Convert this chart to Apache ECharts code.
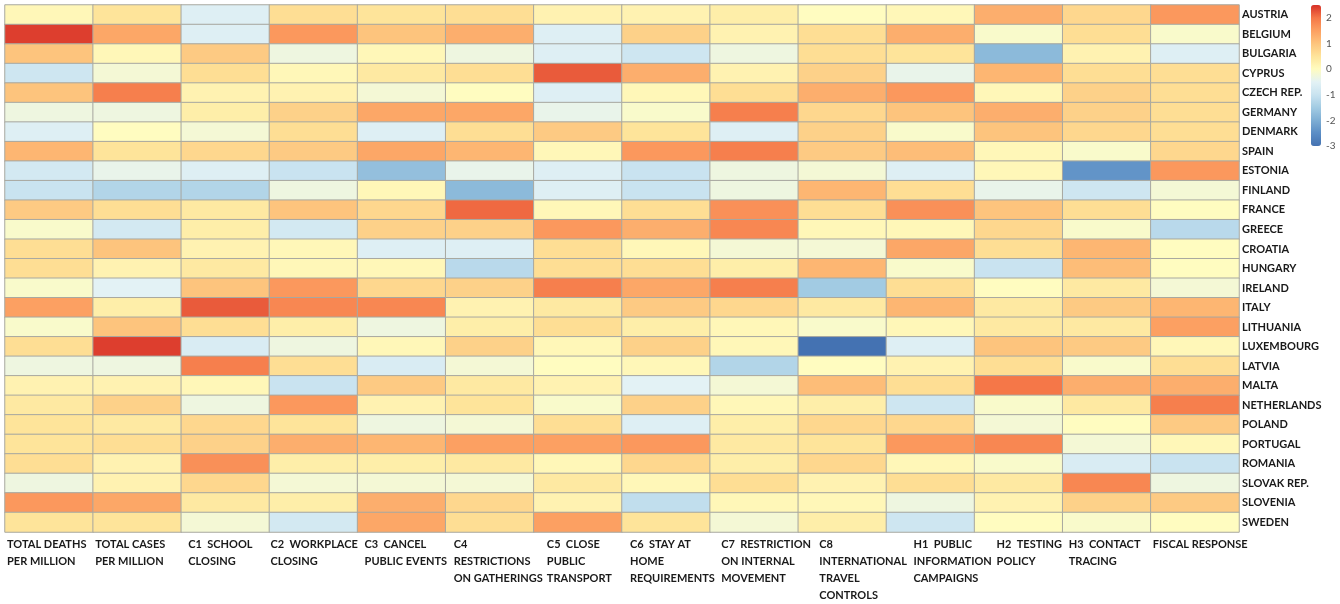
<!DOCTYPE html>
<html>
<head>
<meta charset="utf-8">
<script src="https://cdn.jsdelivr.net/npm/echarts@6/dist/echarts.min.js"></script>
<style>
html,body{margin:0;padding:0;background:#fff;}
#chart{width:1340px;height:604px;}
</style>
</head>
<body>
<div id="chart"></div>
<script>
const countries = ["AUSTRIA","BELGIUM","BULGARIA","CYPRUS","CZECH REP.","GERMANY","DENMARK","SPAIN","ESTONIA","FINLAND","FRANCE","GREECE","CROATIA","HUNGARY","IRELAND","ITALY","LITHUANIA","LUXEMBOURG","LATVIA","MALTA","NETHERLANDS","POLAND","PORTUGAL","ROMANIA","SLOVAK REP.","SLOVENIA","SWEDEN"];

const columnLabels = [
  "TOTAL DEATHS\nPER MILLION",
  "TOTAL CASES\nPER MILLION",
  "C1  SCHOOL\nCLOSING",
  "C2  WORKPLACE\nCLOSING",
  "C3  CANCEL\nPUBLIC EVENTS",
  "C4\nRESTRICTIONS\nON GATHERINGS",
  "C5  CLOSE\nPUBLIC\nTRANSPORT",
  "C6  STAY AT\nHOME\nREQUIREMENTS",
  "C7  RESTRICTION\nON INTERNAL\nMOVEMENT",
  "C8\nINTERNATIONAL\nTRAVEL\nCONTROLS",
  "H1  PUBLIC\nINFORMATION\nCAMPAIGNS",
  "H2  TESTING\nPOLICY",
  "H3  CONTACT\nTRACING",
  "FISCAL RESPONSE"
];

// one array per column, values in country order
const totalDeaths = [0.1,2.4,1.0,-0.9,1.0,-0.3,-0.6,1.2,-0.8,-1.0,0.9,-0.1,0.6,0.6,-0.1,1.5,-0.1,0.6,-0.3,0.2,0.4,0.5,0.5,0.6,-0.3,1.6,0.5];
const totalCases  = [0.5,1.4,0.1,-0.2,1.9,-0.3,0.0,0.5,-0.4,-1.3,0.6,-0.8,1.0,0.2,-0.5,0.3,1.0,2.4,-0.3,0.2,0.8,0.4,0.6,0.2,0.2,1.4,0.5];
const c1School    = [-0.6,-0.6,0.9,0.6,0.2,0.3,-0.2,0.7,-0.6,-1.3,0.4,0.3,0.2,0.4,1.0,2.2,0.6,-0.7,1.9,0.1,-0.3,0.7,0.8,1.7,0.7,0.4,-0.2];
const c2Workplace = [0.6,1.6,-0.3,0.1,0.2,0.8,0.6,0.9,-1.0,-0.3,1.0,-0.8,0.1,0.1,1.6,1.8,0.3,-0.3,0.6,-1.0,1.6,0.5,1.3,0.3,-0.2,0.3,-0.8];
const c3Events    = [0.5,1.0,0.1,0.4,-0.2,1.4,-0.6,1.4,-1.7,0.1,0.7,0.8,-0.6,0.1,0.7,1.8,-0.3,0.1,-0.7,0.9,0.2,-0.3,1.2,0.3,-0.2,1.3,1.4];
const c4Gatherings= [0.6,1.3,-0.3,0.6,0.0,1.4,0.6,1.2,-0.4,-1.8,2.1,0.8,-0.6,-1.2,0.8,0.2,0.3,0.8,-0.2,0.4,0.5,-0.2,1.5,0.4,-0.2,0.7,0.6];
const c5Transport = [0.2,-0.6,-0.6,2.2,-0.6,-0.4,0.9,0.1,-0.6,-0.6,0.1,1.6,0.6,0.6,1.9,0.4,0.6,0.1,0.0,0.2,-0.1,0.6,1.5,0.1,0.4,0.2,1.5];
const c6StayHome  = [0.2,0.8,-0.9,1.3,0.1,-0.1,0.5,1.6,-1.0,-1.0,0.6,1.3,0.1,0.6,1.4,0.9,0.3,0.8,0.1,-0.5,0.8,-0.6,1.6,0.7,0.1,-1.1,0.5];
const c7Internal  = [0.3,0.2,-0.3,0.2,0.6,1.9,-0.6,1.9,-0.3,-0.3,1.7,1.8,-0.2,0.3,1.9,0.7,0.1,0.1,-1.3,-0.2,0.1,0.3,0.4,0.3,0.6,0.1,-0.2];
const c8Travel    = [0.0,0.6,0.6,0.8,1.3,0.7,0.8,0.9,-0.2,1.2,0.6,0.1,-0.2,1.2,-1.5,0.4,-0.1,-3.0,0.0,1.1,0.3,0.7,0.5,0.7,0.2,0.1,0.3];
const h1Info      = [0.1,1.3,0.5,-0.4,1.6,1.0,-0.1,1.1,-0.6,0.6,1.7,0.1,1.4,-0.1,0.6,1.2,0.1,-0.6,0.2,0.6,-0.9,0.7,1.6,0.1,0.6,-0.3,-0.9];
const h2Testing   = [1.3,-0.1,-1.8,1.2,0.1,1.3,1.0,0.1,0.1,-0.4,1.0,0.7,0.6,-1.0,0.0,0.4,0.4,1.0,0.6,2.0,-0.1,-0.2,1.8,-0.1,0.4,0.2,0.0];
const h3Tracing   = [0.7,0.6,0.2,0.6,0.8,0.8,0.7,-0.1,-2.4,-0.9,0.6,-0.1,1.2,1.1,0.4,0.9,0.4,0.9,-0.1,1.3,0.4,0.0,-0.2,-0.7,1.8,0.8,-0.1];
const fiscal      = [1.6,-0.1,-0.6,0.6,0.6,0.6,0.6,0.7,1.6,-0.2,0.0,-1.2,0.0,0.0,-0.2,1.2,1.5,0.1,0.6,1.3,1.9,0.9,0.1,-1.0,-0.3,0.9,0.0];

const columns = [totalDeaths,totalCases,c1School,c2Workplace,c3Events,c4Gatherings,c5Transport,c6StayHome,c7Internal,c8Travel,h1Info,h2Testing,h3Tracing,fiscal];

// styling: left indent of each column's label text (px)
const labelIndent = [2,2,7,1,7,8,13,8,11,21,27,22,6,2];

const scaleMin = -3, scaleMax = 2.5;

const data = [];
columns.forEach((col, c) => col.forEach((v, r) => data.push([c, r, v])));

const labelFont = 'Lato, "Open Sans", sans-serif';
const rich = {};
labelIndent.forEach((p, i) => {
  rich['p' + i] = {padding: [0, 0, 0, p], fontFamily: labelFont, fontWeight: 'bold', fontSize: 11, color: '#1a1a1a', lineHeight: 17};
});

const chart = echarts.init(document.getElementById('chart'));
chart.setOption({
  backgroundColor: '#ffffff',
  animation: false,
  grid: [
    {left: 5, right: 101, top: 5, bottom: 65},
    {left: 1311, top: 5, width: 10, height: 141}
  ],
  xAxis: [
    {type: 'category', gridIndex: 0, data: columnLabels, axisLabel: {show: false}, axisTick: {show: false}, axisLine: {show: false}, splitLine: {show: false}},
    {type: 'value', gridIndex: 0, min: 0, max: columnLabels.length, interval: 1, position: 'bottom',
     axisLine: {show: false}, axisTick: {show: false}, splitLine: {show: false},
     axisLabel: {
       formatter: v => (columnLabels[v] || '').split('\n').map(l => l ? '{p' + v + '|' + l + '}' : '').join('\n'),
       rich: rich, align: 'left', verticalAlign: 'top', margin: 4,
       fontFamily: labelFont, fontWeight: 'bold', fontSize: 11, color: '#1a1a1a', lineHeight: 17, showMaxLabel: false}},
    {type: 'value', gridIndex: 1, show: false, min: 0, max: 1}
  ],
  yAxis: [
    {type: 'category', gridIndex: 0, data: countries, inverse: true, position: 'right',
     axisLine: {show: false}, axisTick: {show: false}, splitLine: {show: false},
     axisLabel: {margin: 3, align: 'left', fontFamily: labelFont, fontWeight: 'bold', fontSize: 11, color: '#1a1a1a'}},
    {type: 'value', gridIndex: 1, min: scaleMin, max: scaleMax, interval: 1, position: 'right',
     axisLine: {show: false}, axisTick: {show: false}, splitLine: {show: false},
     axisLabel: {margin: 5, fontSize: 10, color: '#555', fontFamily: labelFont, showMaxLabel: false}}
  ],
  visualMap: {
    type: 'continuous', min: scaleMin, max: scaleMax, calculable: false, seriesIndex: 0,
    orient: 'vertical', left: 1311, top: 5, itemWidth: 10, itemHeight: 141, padding: 0,
    text: null, showLabel: false, hoverLink: false,
    inRange: {color: ['#4472b2','#5b8dc5','#7eaed4','#a2cbe3','#c9e3f0','#e3f2f5','#fffcc0','#fee49a','#fdc47d','#fca062','#f57748','#d73027']}
  },
  series: [{
    type: 'heatmap', xAxisIndex: 0, yAxisIndex: 0, data: data,
    itemStyle: {borderColor: '#a8a8a0', borderWidth: 1},
    emphasis: {disabled: true}
  }]
});
</script>
</body>
</html>
